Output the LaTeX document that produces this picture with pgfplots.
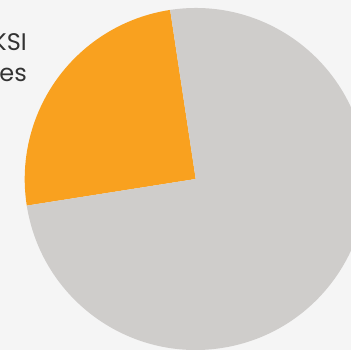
\documentclass[border=0pt]{standalone}
\usepackage{fontspec}
\setmainfont{Poppins}
\usepackage{pgfplots}
\usepackage{pgfplotstable}
\pgfplotsset{compat=1.18}
\definecolor{bg}{HTML}{F5F5F5}
\definecolor{pieorange}{HTML}{F9A11F}
\definecolor{piegrey}{HTML}{CFCDCB}
\definecolor{txt}{HTML}{333333}
% share of the pie (percent)
\pgfplotstableread{
label share
KSI 25.1
Other 74.9
}\piedata
\begin{document}
\begin{tikzpicture}
\fill[bg] (0,0) rectangle (351pt,350pt);
\path[use as bounding box] (0,0) rectangle (351pt,350pt);
\begin{axis}[
  at={(0,0)}, anchor=origin,
  x=1pt, y=1pt,
  xmin=0, xmax=351, ymin=0, ymax=350,
  hide axis, clip=true,
]
\addplot[draw=none, forget plot] coordinates {(0,0) (351,350)};
\pgfplotstablegetelem{0}{share}\of\piedata \let\sa\pgfplotsretval
\pgfplotstablegetelem{1}{share}\of\piedata \let\sb\pgfplotsretval
\pgfmathsetmacro{\astart}{98.6}
\pgfmathsetmacro{\amid}{\astart+3.6*\sa}
\pgfmathsetmacro{\aend}{\amid+3.6*\sb}
\fill[pieorange] (axis cs:195.7,171) -- ++(\astart:171pt) arc[start angle=\astart, end angle=\amid, radius=171pt] -- cycle;
\fill[piegrey] (axis cs:195.7,171) -- ++(\amid:171pt) arc[start angle=\amid, end angle=\aend, radius=171pt] -- cycle;
\end{axis}
\node[anchor=base east, text=txt, font=\fontsize{24pt}{28pt}\selectfont, inner sep=0pt] at (27pt,299pt) {KSI};
\node[anchor=base east, text=txt, font=\fontsize{24pt}{28pt}\selectfont, inner sep=0pt] at (27pt,268.5pt) {Slight casualties};
\end{tikzpicture}
\end{document}
